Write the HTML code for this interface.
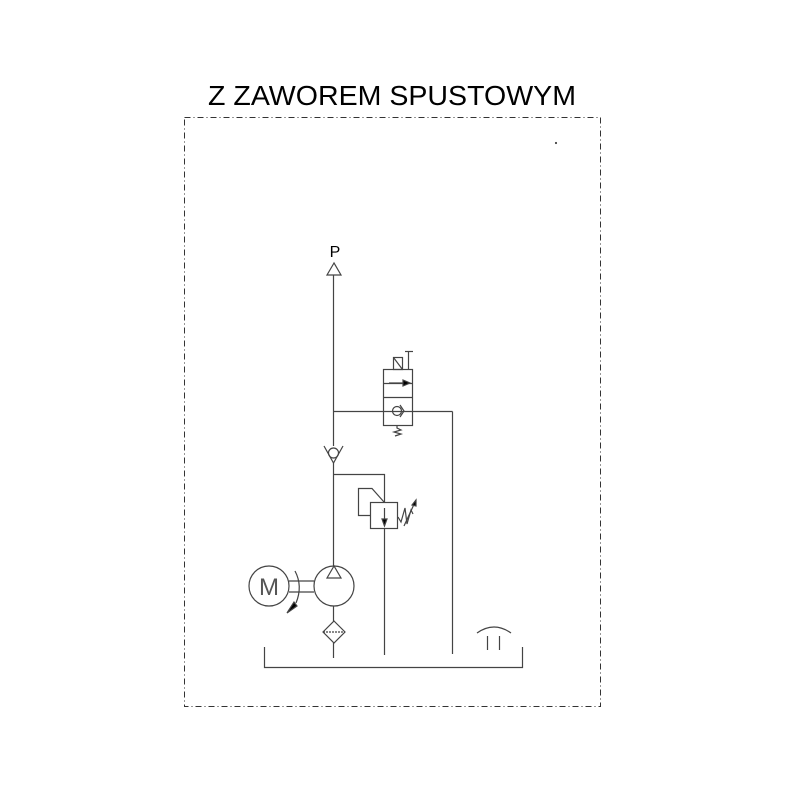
<!DOCTYPE html>
<html><head><style>body{margin:0;background:#fff}</style></head><body>
<svg width="800" height="800" viewBox="0 0 800 800" xmlns="http://www.w3.org/2000/svg">
<rect width="800" height="800" fill="#fff"/>
<text x="392" y="105" font-family="Liberation Sans, sans-serif" font-size="28" text-anchor="middle" fill="#000" textLength="368" lengthAdjust="spacingAndGlyphs">Z ZAWOREM SPUSTOWYM</text>
<rect x="184.5" y="117.5" width="416" height="589" fill="none" stroke="#333" stroke-dasharray="6,3,1,3"/>
<g fill="none" stroke="#444" stroke-width="1.2">
<text x="335" y="257" font-family="Liberation Sans, sans-serif" font-size="16" text-anchor="middle" fill="#000" stroke="none">P</text>
<polygon points="334,263 327,275 341,275"/>
<line x1="333.5" y1="275" x2="333.5" y2="446"/>
<line x1="333.5" y1="411.5" x2="452.5" y2="411.5"/>
<line x1="452.5" y1="411.5" x2="452.5" y2="654"/>
<rect x="383.5" y="369.5" width="29" height="56"/>
<line x1="383" y1="383.5" x2="412" y2="383.5"/>
<line x1="383" y1="397.5" x2="412" y2="397.5"/>
<line x1="389" y1="383" x2="408" y2="383"/>
<polygon points="410,383 403,380 403,386" fill="#000"/>
<circle cx="397" cy="411" r="4.5"/>
<polyline points="400,405 404,411 400,417" fill="none"/>
<rect x="393.5" y="357.5" width="9" height="12"/>
<line x1="393.5" y1="357.5" x2="402.5" y2="369.5"/>
<line x1="408.5" y1="351" x2="408.5" y2="369"/>
<line x1="405" y1="351.5" x2="413" y2="351.5"/>
<polyline points="397,425 397,428 401,430 394,432 401,434 395,436"/>
<circle cx="333.5" cy="453" r="5"/>
<polyline points="324,446 333.5,463 343,446"/>
<line x1="333.5" y1="463" x2="333.5" y2="566"/>
<polyline points="333.5,474.5 384.5,474.5 384.5,502"/>
<rect x="370.5" y="502.5" width="27" height="26"/>
<polyline points="384.5,508 384.5,524" />
<polygon points="384.5,526 382,519 387,519" fill="#000"/>
<polyline points="370,515.5 358.5,515.5 358.5,488.5 372,488.5 384,502"/>
<polyline points="398,517 401,522 405,508 407,524 411,510 413,514"/>
<line x1="404" y1="526" x2="416" y2="500"/>
<polygon points="416,500 412,505 416,506" fill="#000"/>
<line x1="384.5" y1="528" x2="384.5" y2="655"/>
<circle cx="334" cy="586" r="20"/>
<polygon points="334,566 327,578 341,578"/>
<circle cx="269" cy="586" r="20"/>
<text x="269" y="595" font-family="Liberation Sans, sans-serif" font-size="24" text-anchor="middle" fill="#555" stroke="none">M</text>
<line x1="289" y1="581" x2="314" y2="581"/>
<line x1="289" y1="592" x2="314" y2="592"/>
<path d="M295,571 Q303,586 296,603"/>
<polygon points="287,613 294,602 297,606" fill="#000"/>
<line x1="333.5" y1="606" x2="333.5" y2="621"/>
<polygon points="334,621 345,632 334,643 323,632"/>
<line x1="323" y1="632" x2="345" y2="632" stroke-dasharray="2,1"/>
<line x1="333.5" y1="643" x2="333.5" y2="658"/>
<polyline points="264.5,647 264.5,667.5 522.5,667.5 522.5,647"/>
<path d="M477,633 Q494,621 511,633"/>
<line x1="487.5" y1="636" x2="487.5" y2="650"/>
<line x1="499.5" y1="636" x2="499.5" y2="650"/>
<circle cx="556" cy="143" r="0.5"/>
</g>
</svg>
</body></html>
